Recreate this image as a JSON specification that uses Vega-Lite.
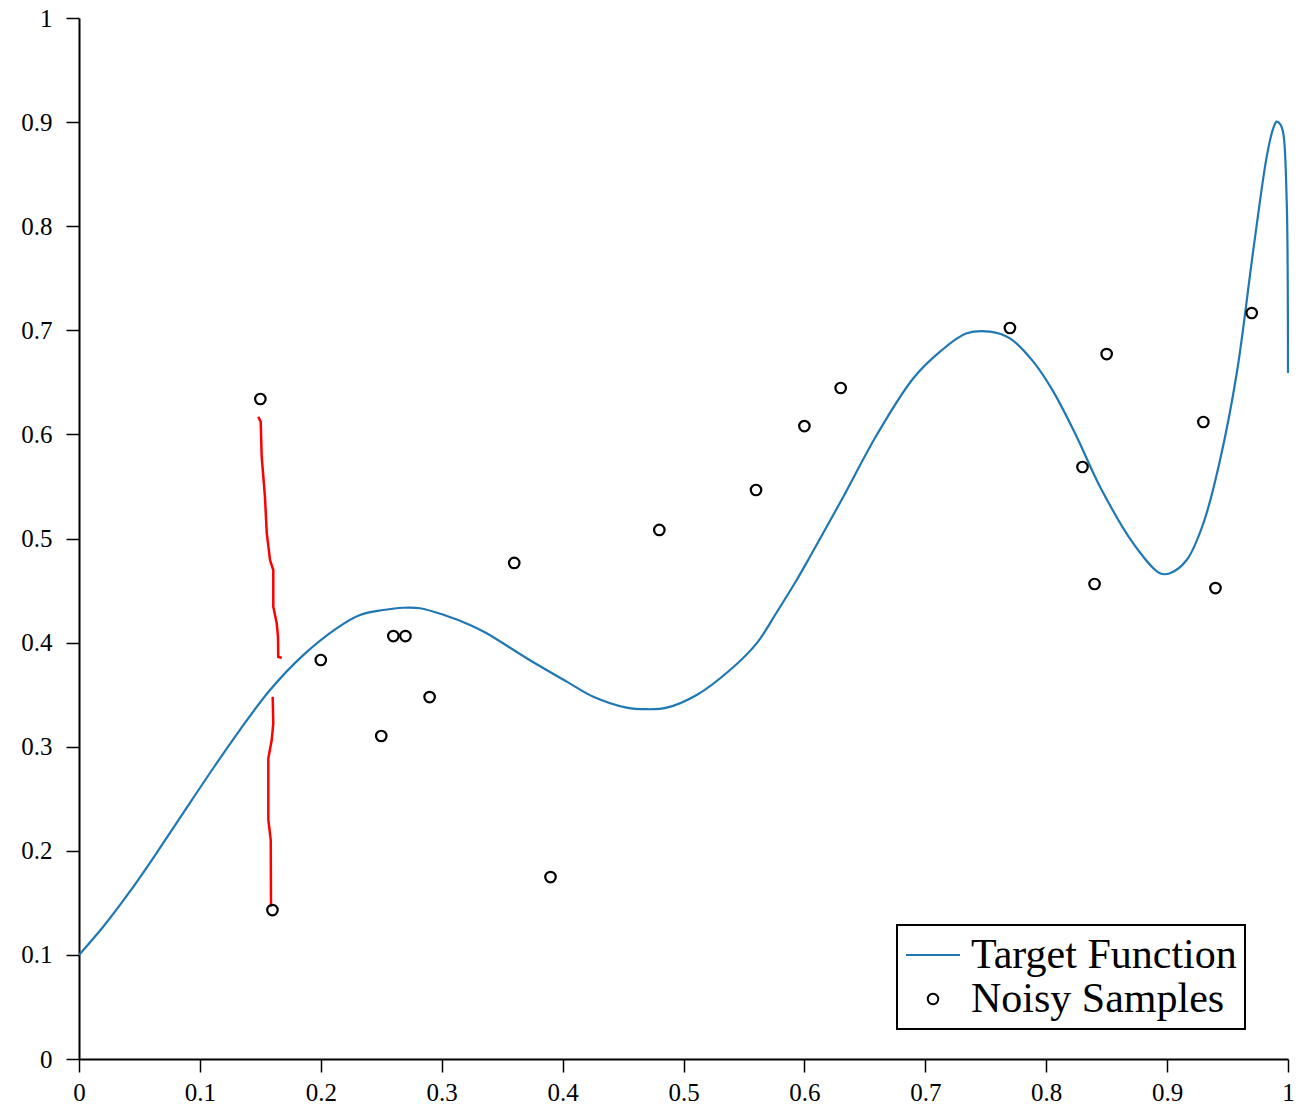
{
  "$schema": "https://vega.github.io/schema/vega-lite/v6.json",
  "width": 1209,
  "height": 1041,
  "autosize": {"type": "none"},
  "padding": {"left": 79, "top": 18, "right": 21, "bottom": 47},
  "background": "white",
  "config": {
    "view": {"stroke": null},
    "font": "Liberation Serif",
    "axis": {
      "grid": false,
      "domainColor": "black",
      "domainWidth": 2,
      "tickColor": "black",
      "tickWidth": 1.5,
      "tickSize": 13,
      "labelFont": "Liberation Serif",
      "labelFontSize": 25,
      "labelColor": "black",
      "labelFlush": false,
      "labelOverlap": false,
      "title": null
    },
    "legend": {
      "padding": 8,
      "strokeColor": "black",
      "strokeWidth": 2,
      "fillColor": "white",
      "cornerRadius": 0,
      "labelFont": "Liberation Serif",
      "labelFontSize": 42,
      "labelColor": "black",
      "labelOffset": 10,
      "labelLimit": 400,
      "rowPadding": 0,
      "clipHeight": 44,
      "symbolStrokeWidth": 2
    }
  },
  "datasets": {
    "curve": [
      {"x": 0, "y": 0.1}, {"x": 0.02, "y": 0.127}, {"x": 0.042, "y": 0.1607},
      {"x": 0.064, "y": 0.1976}, {"x": 0.086, "y": 0.236}, {"x": 0.111, "y": 0.2793},
      {"x": 0.133, "y": 0.316}, {"x": 0.158, "y": 0.3545}, {"x": 0.1855, "y": 0.388},
      {"x": 0.2131, "y": 0.4137}, {"x": 0.2324, "y": 0.4265}, {"x": 0.2517, "y": 0.4313},
      {"x": 0.2683, "y": 0.4335}, {"x": 0.282, "y": 0.433}, {"x": 0.302, "y": 0.4265},
      {"x": 0.3234, "y": 0.417}, {"x": 0.3372, "y": 0.409}, {"x": 0.3703, "y": 0.385},
      {"x": 0.4034, "y": 0.3625}, {"x": 0.4254, "y": 0.348}, {"x": 0.453, "y": 0.3375},
      {"x": 0.4696, "y": 0.336}, {"x": 0.4861, "y": 0.3375}, {"x": 0.5109, "y": 0.3497},
      {"x": 0.5385, "y": 0.3737}, {"x": 0.5605, "y": 0.3993}, {"x": 0.577, "y": 0.4289},
      {"x": 0.5936, "y": 0.4601}, {"x": 0.6046, "y": 0.4825}, {"x": 0.6322, "y": 0.5401},
      {"x": 0.6598, "y": 0.5994}, {"x": 0.6901, "y": 0.6539}, {"x": 0.7122, "y": 0.6795},
      {"x": 0.7342, "y": 0.6971}, {"x": 0.7535, "y": 0.6987}, {"x": 0.77, "y": 0.6923},
      {"x": 0.7893, "y": 0.6699}, {"x": 0.8059, "y": 0.6411}, {"x": 0.8252, "y": 0.5978},
      {"x": 0.8445, "y": 0.5498}, {"x": 0.872, "y": 0.4953}, {"x": 0.8941, "y": 0.4666},
      {"x": 0.9024, "y": 0.4666}, {"x": 0.9162, "y": 0.4793}, {"x": 0.93, "y": 0.5146},
      {"x": 0.9438, "y": 0.5754}, {"x": 0.9576, "y": 0.6587}, {"x": 0.9713, "y": 0.7771},
      {"x": 0.9824, "y": 0.8668}, {"x": 0.9875, "y": 0.893}, {"x": 0.9906, "y": 0.9004},
      {"x": 0.9935, "y": 0.898}, {"x": 0.9961, "y": 0.8892}, {"x": 0.9989, "y": 0.8252},
      {"x": 0.9997, "y": 0.7611}, {"x": 1.0, "y": 0.659}
    ],
    "samples": [
      {"x": 0.15, "y": 0.634, "series": "Noisy Samples"},
      {"x": 0.16, "y": 0.1431, "series": "Noisy Samples"},
      {"x": 0.2, "y": 0.3833, "series": "Noisy Samples"},
      {"x": 0.25, "y": 0.3103, "series": "Noisy Samples"},
      {"x": 0.26, "y": 0.4063, "series": "Noisy Samples"},
      {"x": 0.27, "y": 0.4063, "series": "Noisy Samples"},
      {"x": 0.29, "y": 0.3477, "series": "Noisy Samples"},
      {"x": 0.36, "y": 0.4765, "series": "Noisy Samples"},
      {"x": 0.39, "y": 0.1748, "series": "Noisy Samples"},
      {"x": 0.48, "y": 0.5082, "series": "Noisy Samples"},
      {"x": 0.56, "y": 0.5466, "series": "Noisy Samples"},
      {"x": 0.6, "y": 0.608, "series": "Noisy Samples"},
      {"x": 0.63, "y": 0.6446, "series": "Noisy Samples"},
      {"x": 0.77, "y": 0.7022, "series": "Noisy Samples"},
      {"x": 0.83, "y": 0.5687, "series": "Noisy Samples"},
      {"x": 0.84, "y": 0.4563, "series": "Noisy Samples"},
      {"x": 0.85, "y": 0.6772, "series": "Noisy Samples"},
      {"x": 0.93, "y": 0.6119, "series": "Noisy Samples"},
      {"x": 0.94, "y": 0.4524, "series": "Noisy Samples"},
      {"x": 0.97, "y": 0.7166, "series": "Noisy Samples"}
    ],
    "red": [
      {"seg": "a", "k": 1, "x": 0.1483, "y": 0.617},
      {"seg": "a", "k": 2, "x": 0.1503, "y": 0.612},
      {"seg": "a", "k": 3, "x": 0.1511, "y": 0.5786},
      {"seg": "a", "k": 4, "x": 0.1538, "y": 0.5401},
      {"seg": "a", "k": 5, "x": 0.1553, "y": 0.5053},
      {"seg": "a", "k": 6, "x": 0.158, "y": 0.4793},
      {"seg": "a", "k": 7, "x": 0.1607, "y": 0.4697},
      {"seg": "a", "k": 8, "x": 0.1607, "y": 0.4345},
      {"seg": "a", "k": 9, "x": 0.1635, "y": 0.4188},
      {"seg": "a", "k": 10, "x": 0.1646, "y": 0.4056},
      {"seg": "a", "k": 11, "x": 0.1648, "y": 0.3864},
      {"seg": "a", "k": 12, "x": 0.1677, "y": 0.3852},
      {"seg": "b", "k": 1, "x": 0.1602, "y": 0.348},
      {"seg": "b", "k": 2, "x": 0.1607, "y": 0.3225},
      {"seg": "b", "k": 3, "x": 0.1594, "y": 0.3064},
      {"seg": "b", "k": 4, "x": 0.1566, "y": 0.2889},
      {"seg": "b", "k": 5, "x": 0.1566, "y": 0.2296},
      {"seg": "b", "k": 6, "x": 0.1586, "y": 0.2104},
      {"seg": "b", "k": 7, "x": 0.1588, "y": 0.1463}
    ]
  },
  "encoding": {
    "x": {
      "field": "x", "type": "quantitative",
      "scale": {"domain": [0, 1], "nice": false, "zero": false},
      "axis": {"values": [0, 0.1, 0.2, 0.3, 0.4, 0.5, 0.6, 0.7, 0.8, 0.9, 1], "format": "~g", "labelPadding": 8}
    },
    "y": {
      "field": "y", "type": "quantitative",
      "scale": {"domain": [0, 1], "nice": false, "zero": false},
      "axis": {"values": [0, 0.1, 0.2, 0.3, 0.4, 0.5, 0.6, 0.7, 0.8, 0.9, 1], "format": "~g", "labelPadding": 14}
    }
  },
  "layer": [
    {
      "data": {"name": "curve"},
      "mark": {"type": "line", "color": "#1f77b4", "strokeWidth": 2.2, "interpolate": "catmull-rom", "clip": false},
      "encoding": {}
    },
    {
      "data": {"name": "red"},
      "mark": {"type": "line", "color": "#ff0000", "strokeWidth": 2.5},
      "encoding": {
        "detail": {"field": "seg", "type": "nominal"},
        "order": {"field": "k", "type": "quantitative"}
      }
    },
    {
      "data": {"name": "samples"},
      "mark": {"type": "point", "filled": false, "strokeWidth": 2.2, "opacity": 1},
      "encoding": {
        "color": {
          "field": "series", "type": "nominal",
          "scale": {"domain": ["Target Function", "Noisy Samples"], "range": ["#1f77b4", "black"]},
          "legend": {
            "title": null,
            "orient": "none",
            "legendX": 818,
            "legendY": 907
          }
        },
        "shape": {
          "field": "series", "type": "nominal",
          "scale": {"domain": ["Target Function", "Noisy Samples"], "range": ["stroke", "circle"]}
        },
        "size": {
          "field": "series", "type": "nominal",
          "scale": {"domain": ["Target Function", "Noisy Samples"], "range": [2916, 110]}
        }
      }
    }
  ]
}
